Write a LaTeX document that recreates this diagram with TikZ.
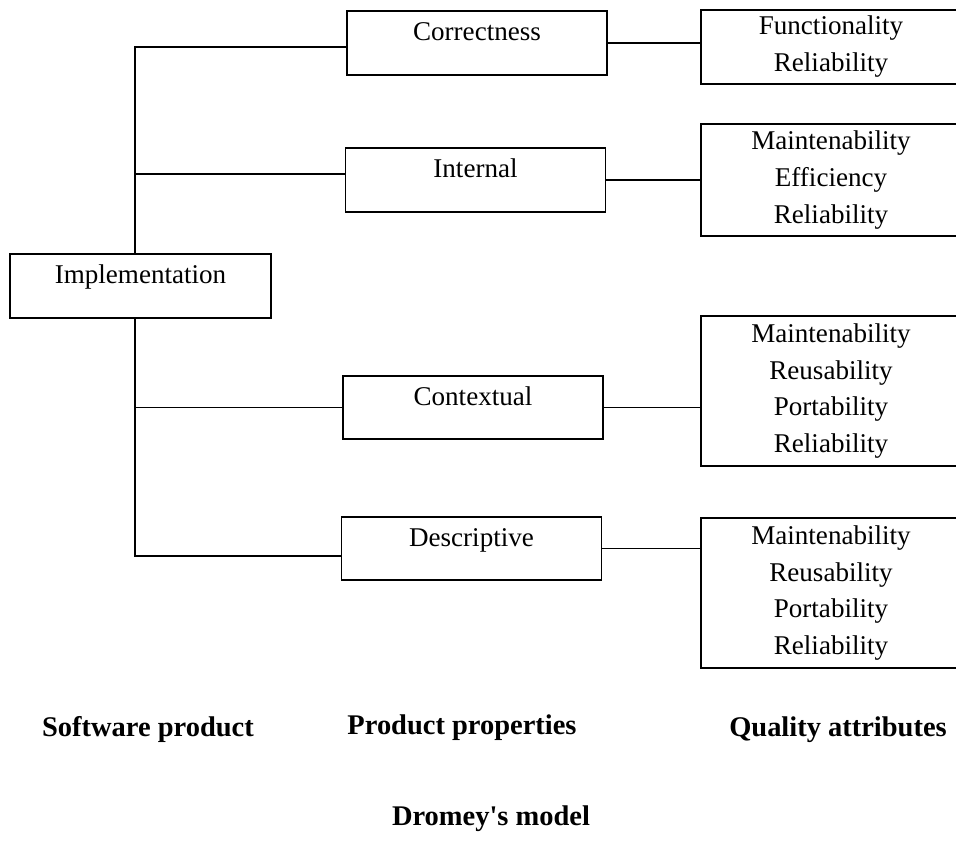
\documentclass[tikz,border=0pt]{standalone}
\usepackage{fontspec}
\setmainfont{Liberation Serif}

\begin{document}
\begin{tikzpicture}[
  every node/.style={font=\fontsize{15.4}{21}\selectfont},
  propbox/.style={draw, line width=1.1pt, inner sep=0pt, minimum width=5.2cm, text height=0.6cm, text depth=0.68cm},
  attrbox/.style={draw, line width=1.1pt, inner sep=0pt, minimum width=5.2cm, align=center},
  link/.style={line width=1.1pt},
  colhead/.style={font=\fontsize{16.2}{18}\selectfont\bfseries}]
\useasboundingbox (0, 0) rectangle (19.12, 16.84);
\node[propbox, minimum width=5.22cm] (impl) at (2.81, 11.12) {Implementation}; % Software product
\node[propbox] (corr) at (9.54, 15.98) {Correctness}; % Prop.0
\node[propbox] (intern) at (9.51, 13.24) {Internal}; % Prop.1
\node[propbox, text depth=0.66cm] (context) at (9.46, 8.69) {Contextual}; % Prop.2
\node[propbox, text depth=0.66cm] (descr) at (9.43, 5.87) {Descriptive}; % Prop.3
\node[attrbox, minimum height=1.48cm] (qa0) at (16.62, 15.90) {Functionality\\Reliability}; % Attr.0
\node[attrbox, minimum height=2.24cm] (qa1) at (16.62, 13.24) {Maintenability\\Efficiency\\Reliability}; % Attr.1
\node[attrbox, minimum height=3cm] (qa2) at (16.62, 9.02) {Maintenability\\Reusability\\Portability\\Reliability}; % Attr.2
\node[attrbox, minimum height=3cm] (qa3) at (16.62, 4.98) {Maintenability\\Reusability\\Portability\\Reliability}; % Attr.3
\draw[link] ([xshift=-0.11cm]impl.north) |- ([yshift=-0.08cm]corr.west); % trunk up
\draw[link] ([xshift=-0.11cm]impl.north) |- ([yshift=0.12cm]intern.west);
\draw[link] ([xshift=-0.11cm]impl.south) |- (context.west); % trunk down
\draw[link] ([xshift=-0.11cm]impl.south) |- ([yshift=-0.15cm]descr.west);
\draw[link] (corr.east) -- (corr.east -| qa0.west);
\draw[link] (intern.east) -- (intern.east -| qa1.west);
\draw[link] (context.east) -- (context.east -| qa2.west);
\draw[link] (descr.east) -- (descr.east -| qa3.west);
\node[colhead] (swprod) at (2.96, 2.24) {Software product};
\node[colhead] (props) at (9.24, 2.28) {Product properties};
\node[colhead] (attrs) at (16.76, 2.24) {Quality attributes};
\node[colhead] (title) at (9.82, 0.46) {Dromey\textquotesingle s model};
\end{tikzpicture}
\end{document}
